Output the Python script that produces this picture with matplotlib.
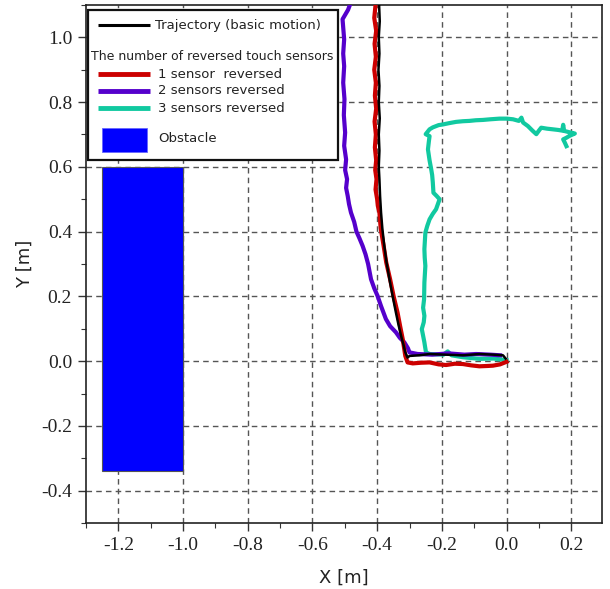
import matplotlib
matplotlib.use("Agg")
import matplotlib.pyplot as plt
from matplotlib.patches import Rectangle
from matplotlib.lines import Line2D
from matplotlib.ticker import MultipleLocator, FormatStrFormatter

# ---------------- data ----------------
basic_x = [-0.394, -0.392, -0.395, -0.393, -0.396, -0.393, -0.395, -0.392, -0.395, -0.393,
           -0.395, -0.393, -0.391, -0.388, -0.384, -0.378, -0.371, -0.362, -0.352, -0.342,
           -0.334, -0.326, -0.318, -0.313, -0.306, -0.300, -0.270, -0.238, -0.190, -0.135,
           -0.084, -0.040, -0.011, -0.003]
basic_y = [1.10, 1.05, 1.00, 0.95, 0.90, 0.85, 0.80, 0.75, 0.70, 0.65,
           0.60, 0.562, 0.51, 0.459, 0.41, 0.356, 0.305, 0.253, 0.20, 0.150,
           0.112, 0.078, 0.048, 0.027, 0.011, 0.016, 0.018, 0.022, 0.020, 0.018,
           0.022, 0.020, 0.018, 0.008]

s1_x = [-0.405, -0.409, -0.403, -0.408, -0.404, -0.409, -0.404, -0.407, -0.403, -0.408,
        -0.404, -0.407, -0.403, -0.406, -0.402, -0.405, -0.400, -0.398, -0.393, -0.389,
        -0.380, -0.372, -0.360, -0.349, -0.337, -0.329, -0.321, -0.313, -0.306, -0.290,
        -0.265, -0.238, -0.210, -0.187, -0.160, -0.135, -0.110, -0.084, -0.060, -0.042,
        -0.020, 0.000]
s1_y = [1.10, 1.06, 1.02, 0.98, 0.94, 0.90, 0.86, 0.82, 0.78, 0.74,
        0.70, 0.66, 0.62, 0.59, 0.562, 0.53, 0.50, 0.48, 0.459, 0.41,
        0.356, 0.305, 0.253, 0.20, 0.150, 0.108, 0.068, 0.016, -0.004, -0.007,
        -0.005, -0.004, -0.010, -0.012, -0.008, -0.009, -0.013, -0.016, -0.015, -0.014,
        -0.010, -0.002]

s2_x = [-0.478, -0.490, -0.507, -0.502, -0.505, -0.502, -0.505, -0.501, -0.503, -0.499,
        -0.502, -0.496, -0.499, -0.493, -0.496, -0.491, -0.487, -0.481, -0.471, -0.464,
        -0.455, -0.445, -0.436, -0.428, -0.419, -0.409, -0.399, -0.388, -0.373, -0.360,
        -0.342, -0.330, -0.316, -0.305, -0.300, -0.275, -0.230, -0.180, -0.130, -0.094,
        -0.050, -0.020]
s2_y = [1.117, 1.085, 1.056, 0.994, 0.95, 0.911, 0.86, 0.809, 0.76, 0.706,
        0.665, 0.623, 0.59, 0.562, 0.535, 0.51, 0.485, 0.459, 0.43, 0.40,
        0.38, 0.356, 0.33, 0.30, 0.253, 0.225, 0.202, 0.170, 0.130, 0.108,
        0.089, 0.072, 0.058, 0.040, 0.027, 0.022, 0.020, 0.024, 0.020, 0.022,
        0.020, 0.018]

s3_x = [0.000, -0.040, -0.084, -0.135, -0.170, -0.182, -0.195, -0.238, -0.249, -0.252,
        -0.254, -0.262, -0.256, -0.254, -0.258, -0.255, -0.254, -0.251, -0.253, -0.254,
        -0.251, -0.245, -0.238, -0.228, -0.218, -0.207, -0.216, -0.226, -0.228, -0.230,
        -0.233, -0.238, -0.243, -0.240, -0.238, -0.250, -0.238, -0.228, -0.210, -0.197,
        -0.178, -0.156, -0.135, -0.115, -0.095, -0.073, -0.050, -0.022, 0.000, 0.020,
        0.038, 0.046, 0.051, 0.066, 0.080, 0.092, 0.100, 0.107, 0.125, 0.143,
        0.160, 0.172, 0.175, 0.178, 0.190, 0.211, 0.195, 0.185, 0.175, 0.180, 0.185]
s3_y = [0.003, 0.008, 0.007, 0.012, 0.018, 0.030, 0.020, 0.022, 0.027, 0.045,
        0.058, 0.099, 0.120, 0.140, 0.165, 0.191, 0.243, 0.294, 0.320, 0.346,
        0.397, 0.418, 0.438, 0.455, 0.469, 0.500, 0.510, 0.520, 0.552, 0.575,
        0.593, 0.620, 0.654, 0.680, 0.695, 0.701, 0.716, 0.722, 0.729, 0.731,
        0.735, 0.739, 0.741, 0.742, 0.744, 0.745, 0.747, 0.749, 0.749, 0.747,
        0.742, 0.752, 0.737, 0.726, 0.712, 0.701, 0.712, 0.721, 0.718, 0.716,
        0.714, 0.712, 0.730, 0.711, 0.708, 0.703, 0.696, 0.690, 0.685, 0.675, 0.664]

obstacle_x = [-1.25, -1.0]
obstacle_y = [-0.339, 0.601]

xticks = [-1.2, -1.0, -0.8, -0.6, -0.4, -0.2, 0.0, 0.2]
yticks = [-0.4, -0.2, 0.0, 0.2, 0.4, 0.6, 0.8, 1.0]

labels = ["Trajectory (basic motion)", "The number of reversed touch sensors",
          "1 sensor  reversed", "2 sensors reversed", "3 sensors reversed", "Obstacle"]
colors = {"basic": "#000000", "s1": "#cc0000", "s2": "#5500cc", "s3": "#11c9a0",
          "obs": "#0000ff"}

# ---------------- figure ----------------
W, H = 610, 589
fig = plt.figure(figsize=(W / 100, H / 100), dpi=100)
L, R, T, B = 86, 602, 5, 523
ax = fig.add_axes([L / W, 1 - B / H, (R - L) / W, (B - T) / H])

ax.set_xlim(-1.3, 0.295)
ax.set_ylim(-0.5, 1.1)
ax.set_axisbelow(True)

ax.add_patch(Rectangle((obstacle_x[0], obstacle_y[0]), obstacle_x[1] - obstacle_x[0],
                       obstacle_y[1] - obstacle_y[0], facecolor=colors["obs"],
                       edgecolor="#555555", linewidth=0.8, zorder=2))

ax.plot(s3_x, s3_y, color=colors["s3"], lw=3.0, zorder=3)
ax.plot(s2_x, s2_y, color=colors["s2"], lw=3.0, zorder=4)
ax.plot(s1_x, s1_y, color=colors["s1"], lw=3.0, zorder=5)
ax.plot(basic_x, basic_y, color=colors["basic"], lw=1.8, zorder=6)

ax.set_xticks(xticks)
ax.set_yticks(yticks)
ax.xaxis.set_minor_locator(MultipleLocator(0.1))
ax.yaxis.set_minor_locator(MultipleLocator(0.1))
ax.xaxis.set_major_formatter(FormatStrFormatter("%.1f"))
ax.yaxis.set_major_formatter(FormatStrFormatter("%.1f"))
ax.tick_params(which="major", direction="out", length=6, width=1, color="#333333",
               labelsize=14, pad=4)
ax.tick_params(which="minor", direction="out", length=3.5, width=0.8, color="#333333")
for lab in ax.get_xticklabels() + ax.get_yticklabels():
    lab.set_fontfamily("Liberation Serif")
    lab.set_color("#222222")

ax.grid(True, which="major", linestyle=(0, (4, 3)), color="#555555", linewidth=1.0)
for s in ax.spines.values():
    s.set_color("#222222")
    s.set_linewidth(1.2)

ax.set_xlabel("X [m]", fontsize=13, fontfamily="DejaVu Sans", labelpad=11, color="#222222")
ax.set_ylabel("Y [m]", fontsize=13, fontfamily="DejaVu Sans", labelpad=5, color="#222222")

# ---------------- legend (drawn in pixel positions) ----------------
def fx(px):
    return px / W

def fy(py):
    return 1 - py / H

tr = fig.transFigure
frame = Rectangle((fx(88), fy(160)), fx(338) - fx(88), fy(10) - fy(160), transform=tr,
                  facecolor="white", edgecolor="#111111", linewidth=1.6, zorder=10)
fig.add_artist(frame)

def leg_line(py, color, lw):
    fig.add_artist(Line2D([fx(98), fx(150)], [fy(py), fy(py)], transform=tr,
                          color=color, lw=lw, zorder=11, solid_capstyle="butt"))

leg_line(25, colors["basic"], 2.2)
fig.text(fx(155), fy(25), labels[0], fontsize=9.5, fontfamily="DejaVu Sans",
         va="center", ha="left", zorder=11, color="#222222")
fig.text(fx(91), fy(57), labels[1], fontsize=9.0, fontfamily="DejaVu Sans",
         va="center", ha="left", zorder=11, color="#222222")
for py, key, lab in [(74, "s1", labels[2]), (91, "s2", labels[3]), (108, "s3", labels[4])]:
    leg_line(py, colors[key], 3.5)
    fig.text(fx(158), fy(py), lab, fontsize=9.5, fontfamily="DejaVu Sans",
             va="center", ha="left", zorder=11, color="#222222")
fig.add_artist(Rectangle((fx(102), fy(152)), fx(147) - fx(102), fy(128) - fy(152),
                         transform=tr, facecolor=colors["obs"], edgecolor="#6666ff",
                         linewidth=0.6, zorder=11))
fig.text(fx(158), fy(139), labels[5], fontsize=9.5, fontfamily="DejaVu Sans",
         va="center", ha="left", zorder=11, color="#222222")

fig.savefig("out.png", dpi=100)
